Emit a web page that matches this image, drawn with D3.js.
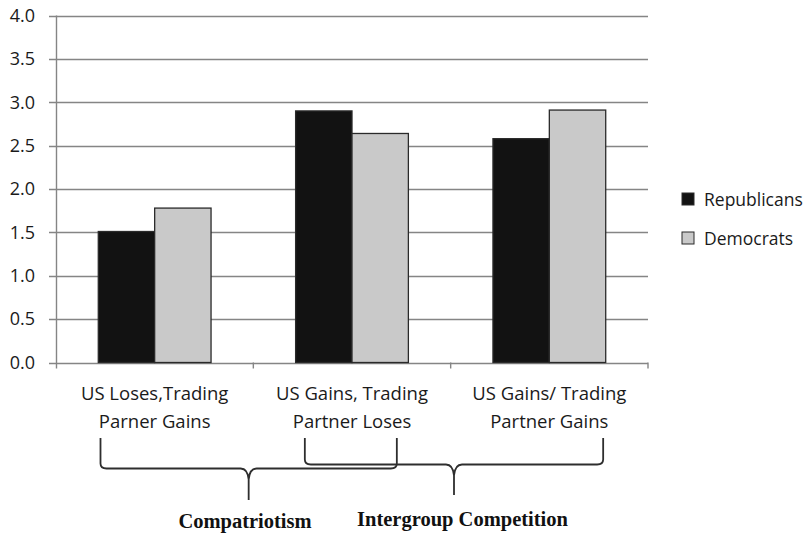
<!DOCTYPE html>
<html>
<head>
<meta charset="utf-8">
<script src="https://cdn.jsdelivr.net/npm/d3@7"></script>
<style>
  html, body { margin: 0; padding: 0; background: #fff; }
  svg { display: block; }
</style>
</head>
<body>
<svg id="chart" width="810" height="535"></svg>
<script>
// Chart data
const categories = [
  ["US Loses,Trading", "Parner Gains"],
  ["US Gains, Trading", "Partner Loses"],
  ["US Gains/ Trading", "Partner Gains"]
];
const seriesNames = ["Republicans", "Democrats"];
const republicans = [1.51, 2.90, 2.58];
const democrats = [1.78, 2.64, 2.91];
const yTicks = [0, 0.5, 1, 1.5, 2, 2.5, 3, 3.5, 4];
const groupLabels = ["Compatriotism", "Intergroup Competition"];

(function () {
const svg = d3.select("#chart");
const plotLeft = 56, plotRight = 648, plotTop = 15.5, plotBottom = 362.5;
const fontSans = "'Open Sans', Lato, sans-serif";

const catKeys = categories.map((d, i) => i);
const x = d3.scaleBand().domain(catKeys).range([plotLeft, plotRight]).paddingInner(0).paddingOuter(0);
const xSub = d3.scaleBand().domain(seriesNames).range([0, x.bandwidth()]).paddingInner(0).paddingOuter(0.75);
const y = d3.scaleLinear().domain([0, 4]).range([plotBottom, plotTop]);
const colors = { Republicans: "#121212", Democrats: "#c9c9c9" };

// Gridlines
svg.append("g")
  .selectAll("line")
  .data(yTicks)
  .join("line")
  .attr("x1", plotLeft - 7).attr("x2", plotRight)
  .attr("y1", d => Math.round(y(d)) + 0.5).attr("y2", d => Math.round(y(d)) + 0.5)
  .attr("stroke", "#858585").attr("stroke-width", 1.4);

// Y axis
const yAxis = svg.append("g")
  .attr("transform", `translate(${plotLeft},0)`)
  .call(d3.axisLeft(y).tickValues(yTicks).tickFormat(d3.format(".1f")).tickSize(7).tickPadding(14));
yAxis.select(".domain").attr("stroke", "#858585").attr("stroke-width", 1.4).attr("d", `M0.5,${plotTop}V${plotBottom + 6}`);
yAxis.selectAll(".tick line").remove();
yAxis.selectAll("text").attr("font-family", fontSans).attr("font-size", 18).attr("fill", "#1a1a1a");

// Category ticks on the baseline
svg.append("g")
  .selectAll("line")
  .data(catKeys.slice(1).concat([catKeys.length]))
  .join("line")
  .attr("x1", d => d < catKeys.length ? x(d) : plotRight)
  .attr("x2", d => d < catKeys.length ? x(d) : plotRight)
  .attr("y1", plotBottom).attr("y2", plotBottom + 6)
  .attr("stroke", "#858585").attr("stroke-width", 1.4);

// Bars
const rows = catKeys.map(i => ({ i, values: [
  { key: "Republicans", v: republicans[i] },
  { key: "Democrats", v: democrats[i] }
]}));
svg.append("g")
  .selectAll("g")
  .data(rows)
  .join("g")
  .attr("transform", d => `translate(${x(d.i)},0)`)
  .selectAll("rect")
  .data(d => d.values)
  .join("rect")
  .attr("x", d => xSub(d.key))
  .attr("width", xSub.bandwidth())
  .attr("y", d => y(d.v))
  .attr("height", d => y(0) - y(d.v))
  .attr("fill", d => colors[d.key])
  .attr("stroke", "#2a2a2a")
  .attr("stroke-width", 1.3);

// Category labels (two lines each)
const catLabel = svg.append("g")
  .selectAll("text")
  .data(catKeys)
  .join("text")
  .attr("font-family", fontSans).attr("font-size", 18.5).attr("fill", "#1a1a1a")
  .attr("text-anchor", "middle");
catLabel.append("tspan").attr("x", d => x(d) + x.bandwidth() / 2).attr("y", 400).text(d => categories[d][0]);
catLabel.append("tspan").attr("x", d => x(d) + x.bandwidth() / 2).attr("y", 427.5).text(d => categories[d][1]);

// Legend
const legend = svg.append("g").attr("transform", "translate(682,193)");
const li = legend.selectAll("g").data(seriesNames).join("g")
  .attr("transform", (d, i) => `translate(0,${i * 39})`);
li.append("rect").attr("width", 12).attr("height", 12)
  .attr("fill", d => colors[d]).attr("stroke", "#2a2a2a").attr("stroke-width", 1);
li.append("text").attr("x", 22).attr("y", 12.5)
  .attr("font-family", fontSans).attr("font-size", 17.5).attr("fill", "#1a1a1a")
  .text(d => d);

// Curly braces grouping the categories
function bracePath(x1, x2, y0, y1, y2) {
  const xt = (x1 + x2) / 2;
  return `M${x1},${y0} L${x1},${y1 - 5} Q${x1},${y1} ${x1 + 6},${y1} L${xt - 8},${y1} Q${xt - 1},${y1} ${xt},${y1 + 11} L${xt},${y2}` +
         ` M${xt},${y1 + 11} Q${xt + 1},${y1} ${xt + 8},${y1} L${x2 - 6},${y1} Q${x2},${y1} ${x2},${y1 - 5} L${x2},${y0}`;
}
const braces = [
  { label: groupLabels[0], x1: x(0) + 44.5, x2: x(1) + 143.5, y1: 468.5, y2: 500 },
  { label: groupLabels[1], x1: x(1) + 51.5, x2: x(2) + 152.5, y1: 464.5, y2: 495 }
];
svg.append("g")
  .selectAll("path")
  .data(braces)
  .join("path")
  .attr("d", d => bracePath(d.x1, d.x2, 438, d.y1, d.y2))
  .attr("fill", "none").attr("stroke", "#2e2e2e").attr("stroke-width", 1.8);

svg.append("g")
  .selectAll("text")
  .data(braces)
  .join("text")
  .attr("x", (d, i) => i === 0 ? 245 : 462.5)
  .attr("y", (d, i) => i === 0 ? 528 : 526)
  .attr("text-anchor", "middle")
  .attr("font-family", "'Liberation Serif', 'Times New Roman', serif")
  .attr("font-weight", "bold").attr("font-size", 20.5).attr("fill", "#111")
  .text(d => d.label);
})();
</script>
</body>
</html>
